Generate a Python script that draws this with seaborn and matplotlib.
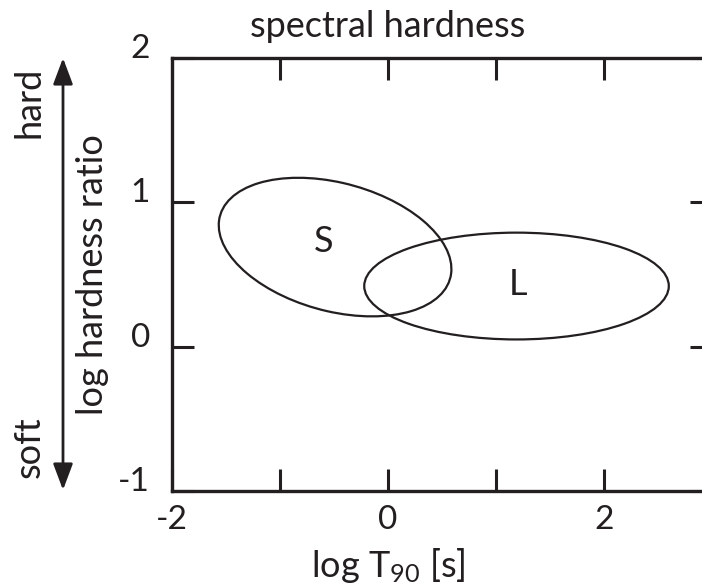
import matplotlib
matplotlib.use("Agg")
import matplotlib.pyplot as plt
from matplotlib.patches import Ellipse
from matplotlib.transforms import ScaledTranslation
import seaborn as sns

# Burst classes: centre (log T90, log hardness), full width/height, tilt in degrees
classes = ["S", "L"]
centre_x = [-0.49, 1.19]
centre_y = [0.69, 0.42]
widths = [2.18, 2.82]
heights = [0.90, 0.74]
angles = [-9.7, 0.0]
label_x = [-0.60, 1.20]
label_y = [0.73, 0.43]

x_ticks = [-2, -1, 0, 1, 2]
x_tick_labels = ["-2", "", "0", "", "2"]
y_ticks = [-1, 0, 1, 2]
y_tick_labels = ["-1", "0", "1", "2"]

INK = "#231f20"
FONT = "Lato"
TEXT_SIZE = 26
TICK_SIZE = 24

sns.set_theme(style="ticks")
plt.rcParams["font.family"] = [FONT, "DejaVu Sans"]
plt.rcParams["mathtext.fontset"] = "custom"
plt.rcParams["mathtext.rm"] = FONT
plt.rcParams["mathtext.default"] = "regular"
plt.rcParams["axes.unicode_minus"] = False

fig = plt.figure(figsize=(7.02, 5.87), dpi=100)
W, H = 702, 587
left_px, right_px, top_px, bottom_px = 172, 712, 58, 491
ax = fig.add_axes([left_px / W, 1 - bottom_px / H,
                   (right_px - left_px) / W, (bottom_px - top_px) / H])

ax.set_xlim(-2, 3)
ax.set_ylim(-1, 2)

for cls, cx, cy, w, h, a, lx, ly in zip(classes, centre_x, centre_y, widths,
                                         heights, angles, label_x, label_y):
    ax.add_patch(Ellipse((cx, cy), w, h, angle=a, fill=False,
                         edgecolor=INK, lw=1.6))
    ax.text(lx, ly, cls, ha="center", va="center", fontsize=TEXT_SIZE, color=INK)

for side in ["left", "bottom", "top", "right"]:
    ax.spines[side].set_linewidth(2.4)
    ax.spines[side].set_color(INK)
    ax.spines[side].set_visible(True)

ax.set_xticks(x_ticks)
ax.set_xticklabels(x_tick_labels)
ax.set_yticks(y_ticks)
ax.set_yticklabels(y_tick_labels)
ax.tick_params(axis="both", direction="in", length=15.5, width=2.2,
               color=INK, labelcolor=INK, labelsize=TICK_SIZE,
               top=True, right=True)
ax.tick_params(axis="x", pad=10)
ax.tick_params(axis="y", pad=16)

for lab in ax.get_yticklabels():
    lab.set_transform(lab.get_transform()
                      + ScaledTranslation(0, 0.12, fig.dpi_scale_trans))

ax.set_title("spectral hardness", x=0.4, y=1.0, pad=15, fontsize=TEXT_SIZE,
             color=INK)

ax.set_xlabel("log T$_{90}$ [s]", fontsize=TEXT_SIZE, color=INK)
ax.xaxis.label.set_va("baseline")
ax.xaxis.set_label_coords(0.4, -0.199)

ax.set_ylabel("log hardness ratio", fontsize=TEXT_SIZE, color=INK)
ax.yaxis.label.set_va("center")
ax.yaxis.set_label_coords((93 - left_px) / (right_px - left_px), 0.5)

# hard / soft direction arrow beside the y axis
arrow_x = 63 / W
ax.annotate("", xy=(arrow_x, 1 - 58 / H), xytext=(arrow_x, 1 - 490 / H),
            xycoords="figure fraction", textcoords="figure fraction",
            arrowprops=dict(arrowstyle="<|-|>,head_length=0.4,head_width=0.15",
                            mutation_scale=40, lw=2.0, color=INK,
                            shrinkA=0, shrinkB=0))
fig.text(29 / W, 1 - 102 / H, "hard", rotation=90, ha="center", va="center",
         fontsize=TEXT_SIZE, color=INK)
fig.text(29 / W, 1 - 447 / H, "soft", rotation=90, ha="center", va="center",
         fontsize=TEXT_SIZE, color=INK)

fig.savefig("out.png", dpi=100, facecolor="white")
